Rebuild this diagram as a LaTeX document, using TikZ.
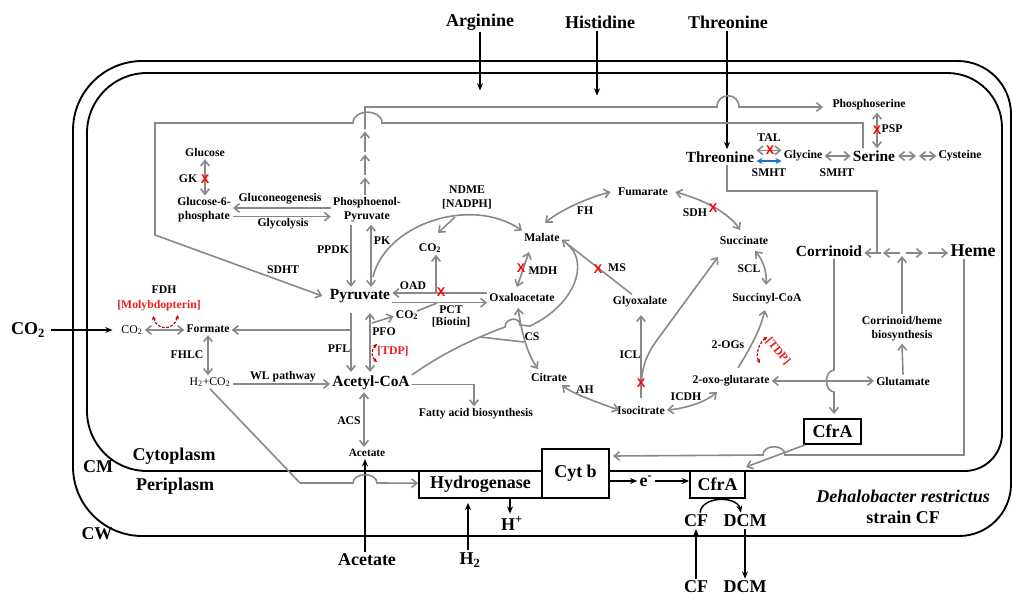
\documentclass[tikz,border=0pt]{standalone}
\usepackage{fontspec}
\setmainfont{Liberation Serif}
\newfontfamily\knockfont{Liberation Sans}
\usetikzlibrary{arrows.meta}

\definecolor{pathgray}{RGB}{137,137,137}
\definecolor{knockred}{RGB}{255,0,0}
\definecolor{cofactorred}{RGB}{235,30,30}
\definecolor{loopred}{RGB}{190,0,0}
\definecolor{smhtblue}{RGB}{25,115,200}

\newcommand\fLarge{\fontsize{13.5}{15}\selectfont\bfseries}
\newcommand\fMid{\fontsize{11.6}{13}\selectfont\bfseries}
\newcommand\fSmall{\fontsize{8.8}{10.5}\selectfont\bfseries}
\newcommand\fPlain{\fontsize{8.8}{10.5}\selectfont}

\tikzset{
  tl/.style={font=\fLarge, inner sep=1.5pt},
  tm/.style={font=\fMid, inner sep=1.5pt},
  ts/.style={font=\fSmall, inner sep=1.5pt},
  tp/.style={font=\fPlain, inner sep=1.5pt},
  cof/.style={font=\fSmall, text=cofactorred, inner sep=1pt},
  knock/.style={font=\knockfont\fontsize{9.5}{10}\selectfont\bfseries, text=knockred, inner sep=0pt},
  membrane/.style={line width=1.4pt, line cap=round},
  membox/.style={draw, line width=1.3pt, fill=white, font=\fLarge, inner sep=0pt},
  gline/.style={draw=pathgray, line width=1.2pt},
  garr/.style={gline, -{Straight Barb[length=4pt,width=6.5pt]}},
  gdbl/.style={gline, {Straight Barb[length=4pt,width=6.5pt]}-{Straight Barb[length=4pt,width=6.5pt]}},
  barr/.style={line width=1.1pt, -{Stealth[length=5.5pt,width=4.5pt]}},
  bdbl/.style={draw=smhtblue, line width=1.3pt, {Stealth[length=4.5pt,width=4.5pt]}-{Stealth[length=4.5pt,width=4.5pt]}},
  redloop/.style={draw=loopred, line width=0.9pt, dash pattern=on 2pt off 1.2pt, {Stealth[length=3pt,width=3pt]}-{Stealth[length=3pt,width=3pt]}},
}

\begin{document}
\begin{tikzpicture}[x=0.75pt,y=-0.75pt]
\useasboundingbox (0,0) rectangle (1013,595);

% ---------- cell wall ----------
\draw[membrane, rounded corners=52pt] (73,300) -- (73,61) -- (540,61);
\draw[membrane, rounded corners=40pt] (540,61) -- (1011,61) -- (1011,300);
\draw[membrane, rounded corners=39pt] (1011,300) -- (1011,536) -- (540,536);
\draw[membrane, rounded corners=52pt] (540,536) -- (73,536) -- (73,300);
% ---------- cytoplasmic membrane ----------
\draw[membrane, rounded corners=45pt] (87,300) -- (87,73) -- (540,73);
\draw[membrane, rounded corners=41pt] (540,73) -- (1002,73) -- (1002,300);
\draw[membrane, rounded corners=28pt] (1002,300) -- (1002,471) -- (540,471);
\draw[membrane, rounded corners=45pt] (540,471) -- (87,471) -- (87,300);

% ---------- outside the cell ----------
\node[tl] (arg) at (480,22) {Arginine};
\node[tl] (his) at (600,22) {Histidine};
\node[tl] (thrO) at (728,22) {Threonine};
\node[tl] (co2O) at (28,330) {CO\textsubscript{2}};
\node[tl] (aceO) at (367,560) {Acetate};
\node[tl] (h2) at (470,560) {H\textsubscript{2}};
\node[tl] (cfO) at (696,587) {CF};
\node[tl] (dcmO) at (745,587) {DCM};

% ---------- compartments ----------
\node[tl] (cyto) at (174,456) {Cytoplasm};
\node[tl] (peri) at (175,486) {Periplasm};
\node[tl] (cmL) at (98,467) {CM};
\node[tl] (cwL) at (97,534) {CW};
\node[tl, font=\fLarge\itshape] (org) at (903,496) {Dehalobacter restrictus};
\node[tl] (strain) at (903,517) {strain CF};

% ---------- membrane proteins ----------
\node[membox, minimum width=92.25pt, minimum height=20.25pt] (hyd) at (480.5,484.5) {Hydrogenase};
\node[membox, minimum width=50.25pt, minimum height=36.75pt] (cytb) at (575.5,473.5) {Cyt b};
\node[membox, minimum width=41.25pt, minimum height=20.25pt] (cfrP) at (717.5,484.5) {CfrA};
\node[membox, minimum width=42.75pt, minimum height=18.75pt] (cfrI) at (832.5,431.5) {CfrA};
\node[tl] (hp) at (512,523) {H\textsuperscript{+}};
\node[tl] (em) at (646,481) {e\textsuperscript{-}};
\node[tl] (cfP) at (696,521) {CF};
\node[tl] (dcmP) at (745,521) {DCM};

% ---------- metabolites ----------
\node[ts] (glc) at (205,153) {Glucose};
\node[ts, align=center] (g6p) at (204,210) {Glucose-6-\\phosphate};
\node[ts, align=center] (pep) at (367,210) {Phosphoenol-\\Pyruvate};
\node[tm] (pyr) at (360,296) {Pyruvate};
\node[tm] (acoa) at (371,383) {Acetyl-CoA};
\node[ts, font=\fontsize{8.5}{10}\selectfont\bfseries] (aceI) at (367,453) {Acetate};
\node[ts] (fatty) at (476,414) {Fatty acid biosynthesis};
\node[tp] (co2S) at (132,330) {CO\textsubscript{2}};
\node[ts] (form) at (208,329) {Formate};
\node[tp] (h2co2) at (210,382) {H\textsubscript{2}+CO\textsubscript{2}};
\node[ts] (co2a) at (430,248) {CO\textsubscript{2}};
\node[ts] (co2b) at (407,315) {CO\textsubscript{2}};
\node[ts] (oaa) at (522,297) {Oxaloacetate};
\node[ts] (mal) at (542,237) {Malate};
\node[ts] (fum) at (643,192) {Fumarate};
\node[ts] (succ) at (744,241) {Succinate};
\node[ts] (scoa) at (767,299) {Succinyl-CoA};
\node[ts] (oxog) at (731,381) {2-oxo-glutarate};
\node[ts] (iso) at (641,410) {Isocitrate};
\node[ts] (cit) at (549,377) {Citrate};
\node[ts] (glyox) at (640,302) {Glyoxalate};
\node[ts] (glut) at (903,381) {Glutamate};
\node[ts, align=center] (bios) at (902,329) {Corrinoid/heme\\biosynthesis};
\node[tm] (corr) at (829,251) {Corrinoid};
\node[tl] (heme) at (973,251) {Heme};
\node[tm] (thrI) at (720,157) {Threonine};
\node[ts] (gly) at (803,156) {Glycine};
\node[tm] (ser) at (874,156) {Serine};
\node[ts] (cys) at (960,156) {Cysteine};
\node[ts] (phs) at (869,105) {Phosphoserine};
\node[ts, align=center] (ndme) at (467,197) {NDME\\{[NADPH]}};

% ---------- enzyme labels ----------
\node[ts] (gk) at (188,179) {GK};
\node[ts] (gng) at (280,199) {Gluconeogenesis};
\node[ts] (glyc) at (283,224) {Glycolysis};
\node[ts] (ppdk) at (333,250) {PPDK};
\node[ts] (pk) at (382,241) {PK};
\node[ts] (sdht) at (283,270) {SDHT};
\node[ts] (oad) at (413,286) {OAD};
\node[ts] (pct) at (451,310) {PCT};
\node[ts] (biotin) at (451,322) {[Biotin]};
\node[ts] (pfo) at (384,332) {PFO};
\node[ts] (pfl) at (339,349) {PFL};
\node[cof] (tdpA) at (393,351) {[TDP]};
\node[ts] (fdh) at (164,290) {FDH};
\node[cof] (moly) at (159,306) {[Molybdopterin]};
\node[ts] (fhlc) at (187,355) {FHLC};
\node[ts] (wl) at (283,377) {WL pathway};
\node[ts] (acs) at (349,421) {ACS};
\node[ts] (mdh) at (543,271) {MDH};
\node[ts] (fh) at (585,211) {FH};
\node[ts] (ms) at (617,268) {MS};
\node[ts] (cs) at (532,337) {CS};
\node[ts] (ah) at (585,390) {AH};
\node[ts] (icl) at (630,355) {ICL};
\node[ts] (icdh) at (686,397) {ICDH};
\node[ts] (sdh) at (695,213) {SDH};
\node[ts] (scl) at (749,269) {SCL};
\node[ts] (ogs) at (728,345) {2-OGs};
\node[cof, rotate=-50] (tdpB) at (778,351) {[TDP]};
\node[ts] (tal) at (769,138) {TAL};
\node[ts] (smhtA) at (769,173) {SMHT};
\node[ts] (smhtB) at (837,173) {SMHT};
\node[ts] (psp) at (892,129) {PSP};

% ---------- helper columns ----------
\coordinate (xhis) at (597,0);
\coordinate (xthr) at (727,0);
\coordinate (xace) at (365,0);
\coordinate (xh2) at (468,0);
\coordinate (xhp) at (510,0);
\coordinate (xpep) at (365,0);
\coordinate (xppdk) at (351,0);
\coordinate (xpk) at (371,0);
\coordinate (xfat) at (474,0);
\coordinate (xacs) at (364,0);
\coordinate (xser) at (863,0);
\coordinate (xpsp) at (877,0);
\coordinate (xcor) at (834,0);
\coordinate (xheme) at (964,0);
\coordinate (xbios) at (902,0);

% ---------- transport across the envelope ----------
\draw[barr] (arg.south) -- ++(0,58);
\draw[barr] (his.south -| xhis) -- ++(0,65);
\draw[barr] (thrO.south -| xthr) -- (xthr |- thrI.north);
\draw[barr] ([xshift=3pt]co2O.east) -- ([xshift=-5pt]co2S.west);
\draw[barr] (aceO.north -| xace) -- (aceI.south -| xace);
\draw[barr] (h2.north -| xh2) -- ([yshift=-3pt]hyd.south -| xh2);
\draw[barr] (hyd.south -| xhp) -- (hp.north -| xhp);
\draw[barr] (cytb.east |- em) -- (em.west);
\draw[barr] (em.east) -- (em.east -| cfrP.west);
\draw[barr] (cfO.north) -- (cfP.south);
\draw[barr] (dcmP.south) -- (dcmO.north);
\draw[barr] ([xshift=3pt]cfP.north) .. controls +(2,-17) and +(-4,-17) .. ([xshift=-3pt]dcmP.north);

% ---------- glycolysis / gluconeogenesis ----------
\draw[gdbl] (glc.south) -- (glc.south |- g6p.north);
\draw[garr] ([yshift=1.5pt]pep.west) -- ([yshift=1.5pt]g6p.east);
\draw[garr] ([yshift=-5pt]g6p.east) -- ([yshift=-5pt]pep.west);
\draw[garr] (pep.south -| xppdk) -- (pyr.north -| xppdk);
\draw[gdbl] (pep.south -| xpk) -- (pyr.north -| xpk);

% PEP towards phosphoserine, several steps
\draw[garr] (pep.north -| xpep) -- ++(0,-18) coordinate (c1);
\draw[garr] ([yshift=1.5pt]c1) -- ++(0,-21) coordinate (c2);
\draw[garr] ([yshift=1.5pt]c2) -- ++(0,-21) coordinate (c3);
\coordinate (psTip) at (823,107);
\draw[garr] ([yshift=1.5pt]c3) -- (xpep |- psTip) -- (717,107)
  .. controls (717,92) and (739,92) .. (739,107) -- (psTip);

% serine to pyruvate (SDHT)
\draw[garr] (ser.north -| xser) -- (863,123) -- (382,123)
  .. controls (382,108.5) and (353,108.5) .. (353,123) -- (155,123) -- (155,235)
  -- ([xshift=-4pt]pyr.west);

% ---------- pyruvate node ----------
\coordinate (ndmeStart) at (373,277);
\draw[garr] (ndmeStart) .. controls (385,225) and (470,195) .. (mal.north west);
\coordinate (ndmeFork) at (455,217);
\coordinate (co2aTip) at (438,233);
\draw[garr] (ndmeFork) -- (co2aTip);
\draw[garr] ([yshift=3pt]oaa.west) -- ([yshift=3pt]oaa.west -| pyr.east);
\coordinate (oadFork) at (436,293);
\draw[garr] (oadFork) -- (oadFork |- co2a.south);
\draw[garr] ([yshift=-5pt]pyr.east) -- ([yshift=-5pt]pyr.east -| oaa.west);
\coordinate (pctIn) at (437,303);
\coordinate (co2bOut) at (417,311);
\draw[gline] (co2bOut) -- (pctIn);
\coordinate (pfoTop) at (370,313);
\coordinate (pfoBot) at (370,372);
\draw[gdbl] (pfoTop) -- (pfoBot);
\coordinate (pfoFork) at (372,323);
\draw[garr] (pfoFork) -- ([yshift=-1pt]co2b.west);
\coordinate (pflTop) at (351,313);
\coordinate (pflBot) at (351,372);
\draw[garr] (pflTop) -- (pflBot);
\coordinate (pflFork) at (351,330);
\draw[garr] (pflFork) -- (pflFork -| form.east);

% ---------- formate / WL ----------
\draw[gdbl] (co2S.east) -- (co2S.east -| form.west);
\draw[gdbl] (form.south) -- (form.south |- h2co2.north);
\draw[garr] ([yshift=-1.5pt]h2co2.east) -- ([yshift=-1.5pt]h2co2.east -| acoa.west);
\draw[garr] (h2co2.south) -- (300,483) -- (353,483)
  .. controls (353,472) and (377,472) .. (377,483) -- ([yshift=1pt]hyd.west);

% ---------- acetyl-CoA ----------
\draw[garr] ([yshift=-1pt]acoa.east) -| (fatty.north -| xfat);
\draw[gdbl] (acoa.south -| xacs) -- (aceI.north -| xacs);
\coordinate (malEnd) at (567,244);
\draw[gline] ([yshift=6pt]acoa.east) .. controls (440,355) and (470,340) .. (505,327)
  .. controls (505,318) and (520,316) .. (520,325) -- (530,326)
  .. controls (575,305) and (590,262) .. (malEnd);
\coordinate (csFork) at (480,337);
\coordinate (csJoin) at (524,342);
\draw[gline] (csFork) -- (csJoin);

% ---------- TCA branches ----------
\coordinate (csTop) at (518,308);
\coordinate (citTop) at (538,369);
\draw[gdbl] (csTop) .. controls (522,335) and (528,355) .. (citTop);
\coordinate (mdhTop) at (529,252);
\coordinate (mdhBot) at (517,287);
\draw[gdbl] (mdhTop) -- (mdhBot);
\draw[garr] ([xshift=-6pt]glyox.north) -- ([yshift=-2pt]mal.east);
\coordinate (fhStart) at (545,223);
\draw[gdbl] (fhStart) .. controls (560,210) and (590,197) .. ([xshift=-4pt]fum.west);
\coordinate (sdhStart) at (740,230);
\draw[gdbl] (sdhStart) .. controls (730,214) and (705,200) .. ([xshift=4pt]fum.east);
\coordinate (sclTop) at (755,251);
\coordinate (sclBot) at (766,285);
\draw[gdbl] (sclTop) .. controls (763,260) and (767,272) .. (sclBot);
\coordinate (ogsStart) at (738,368);
\coordinate (ogsEnd) at (765,310);
\draw[garr] (ogsStart) .. controls (752,345) and (760,330) .. (ogsEnd);
\coordinate (icdhEnd) at (717,392);
\draw[gdbl] (iso.east) .. controls (690,408) and (708,400) .. (icdhEnd);
\coordinate (ahEnd) at (562,385);
\draw[gdbl] ([xshift=3pt]iso.west) .. controls (590,400) and (570,392) .. (ahEnd);
\coordinate (iclBot) at (641,398);
\coordinate (iclTop) at (641,315);
\draw[garr] (iclBot) -- (iclTop);
\coordinate (iclFork) at (641,384);
\coordinate (succTip) at (718,257);
\draw[garr] (iclFork) .. controls (643,362) and (648,352) .. (660,336) -- (succTip);

% ---------- amino acids ----------
\draw[gdbl] ([yshift=5pt]thrI.east) -- ([yshift=5pt]thrI.east -| gly.west);
\draw[bdbl] ([yshift=-3pt]thrI.east) -- ([yshift=-3pt]thrI.east -| gly.west);
\draw[gdbl] (gly.east) -- (ser.west);
\coordinate (cysA) at (898,156);
\coordinate (cysB) at (916,156);
\coordinate (cysC) at (919,156);
\draw[gdbl] (cysA) -- (cysB);
\draw[gdbl] (cysC) -- (cys.west);
\draw[gdbl] (phs.south -| xpsp) -- (ser.north -| xpsp);

% ---------- cofactor branch ----------
\coordinate (cofT) at (877,253);
\draw[gline] (thrI.south -| xthr) |- (877,191) -- (cofT);
\draw[garr] (881,253) -- ([yshift=-1.5pt]corr.east);
\draw[garr] (900,253) -- (883,253);
\draw[garr] (906,253) -- (923,253);
\draw[garr] (928,253) -- ([yshift=-1.5pt]heme.west);
\draw[garr] (bios.north) -- (xbios |- 0,256);
\draw[garr] (glut.north) -- (bios.south);
\draw[gdbl] (oxog.east) -- (glut.west);
\coordinate (cfrTip) at (834,414);
\draw[garr] (corr.south -| xcor) -- (834,370)
  .. controls (824,371) and (824,391) .. (834,392) -- (cfrTip);
\coordinate (cfrOut) at (746,467);
\draw[garr] ([xshift=1.5pt]cfrI.south west) -- (cfrOut);
\coordinate (cytbIn) at (613,456);
\draw[garr] (heme.south -| xheme) -- (964,455) -- (785,455)
  .. controls (785,444) and (763,444) .. (763,455) -- (cytbIn);

% ---------- cofactor loops ----------
\draw[redloop] (153,316) .. controls (157,331) and (174,331) .. (178,315);
\draw[redloop] (377,344) .. controls (371,350) and (371,357) .. (377,362);
\draw[redloop] (767,337) .. controls (759,343) and (755,355) .. (760,363);

% ---------- knocked-out steps ----------
\node[knock] (xgk) at (205,179) {X};
\node[knock] (xoad) at (441,292) {X};
\node[knock] (xmdh) at (521,268) {X};
\node[knock] (xms) at (598,269) {X};
\node[knock] (xicl) at (641,383) {X};
\node[knock] (xsdh) at (713,208) {X};
\node[knock] (xtal) at (770,150) {X};
\node[knock] (xpsp) at (877,130) {X};
\end{tikzpicture}
\end{document}
